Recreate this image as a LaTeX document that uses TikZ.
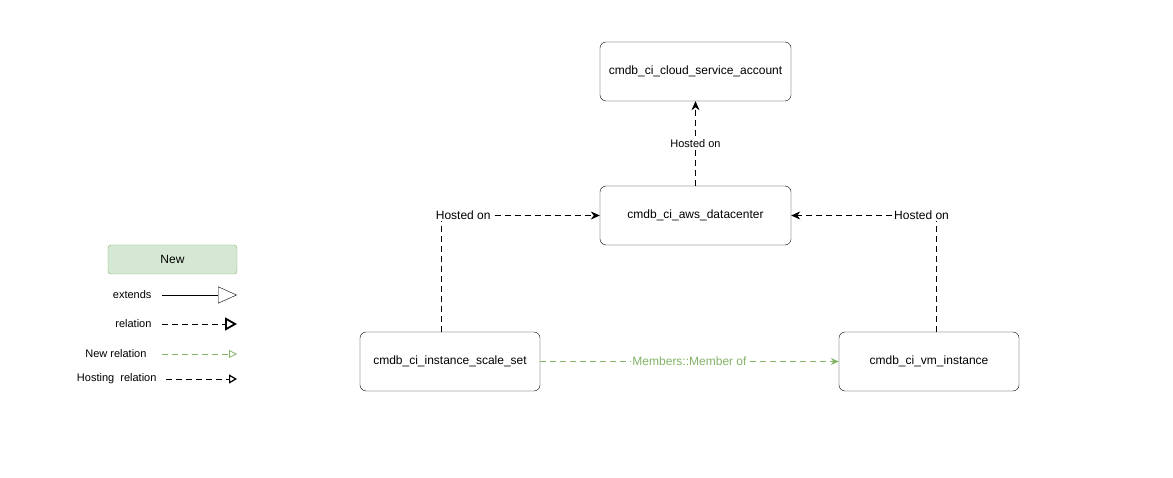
\documentclass[tikz,border=0pt]{standalone}
\usepackage{fontspec}
\setmainfont{Liberation Sans}
\usetikzlibrary{arrows.meta,positioning}
\definecolor{newfill}{RGB}{213,232,212}
\definecolor{newline}{RGB}{130,179,102}

\begin{document}
\begin{tikzpicture}[x=1pt, y=-1pt,
    ci/.style={draw, rounded corners=6pt, minimum width=191pt, minimum height=59pt, font=\fontsize{12}{14}\selectfont},
    hosted/.style={thick, dash pattern=on 6pt off 4pt, -{Stealth[length=9pt,width=8pt]}},
    member/.style={thick, newline, dash pattern=on 6pt off 4pt, -{Stealth[length=8pt,width=7pt]}},
    lbl/.style={fill=white, inner sep=1pt, font=\fontsize{12}{14}\selectfont},
    legtext/.style={anchor=east, font=\fontsize{11}{13}\selectfont}]
    \useasboundingbox (0,0) rectangle (1173,478);
    % CIs
    \node[ci] (cloud) at (695.5,71.5) {cmdb\_ci\_cloud\_service\_account};
    \node[ci] (dc) at (695.5,215.5) {cmdb\_ci\_aws\_datacenter};
    \node[ci, minimum width=180pt] (scaleset) at (450,361.5) {cmdb\_ci\_instance\_scale\_set};
    \node[ci, minimum width=180pt] (vm) at (929,361.5) {cmdb\_ci\_vm\_instance};
    % relations
    \draw[hosted] (dc) -- (cloud)
        node[midway, lbl, font=\fontsize{11}{13}\selectfont] {Hosted on};
    \draw[hosted] ([xshift=-9pt]scaleset.north) |- (dc.west)
        node[pos=0.57, lbl] {Hosted on};
    \draw[hosted] ([xshift=7pt]vm.north) |- (dc.east)
        node[pos=0.55, lbl] {Hosted on};
    \draw[member] (scaleset) -- (vm)
        node[midway, lbl] {Members::Member of};
    % legend
    \node[draw=newline, fill=newfill, rounded corners=3pt, minimum width=129pt, minimum height=29pt,
        font=\fontsize{12}{14}\selectfont] (new) at (172.5,259.5) {New};
    \node[legtext] (extends) at (155,295) {extends};
    \node[legtext] (relation) at (155,324) {relation};
    \node[legtext] (newrel) at (150,354) {New relation};
    \node[legtext] (hosting) at (160,379) {Hosting\ \ relation};
    \coordinate (e1) at (162,295);  \coordinate (e2) at (237,295);
    \coordinate (r1) at (162,324);  \coordinate (r2) at (237,324);
    \coordinate (n1) at (162,354);  \coordinate (n2) at (237,354);
    \coordinate (h1) at (166,379);  \coordinate (h2) at (237,379);
    \draw[-{Triangle[open,length=19pt,width=17pt]}] (e1) -- (e2);
    \draw[thick, dash pattern=on 6pt off 4pt, -{Triangle[open,line width=1.8pt,length=12pt,width=13pt]}] (r1) -- (r2);
    \draw[thick, newline, dash pattern=on 6pt off 4pt, -{Triangle[open,length=8pt,width=8pt]}] (n1) -- (n2);
    \draw[thick, dash pattern=on 6pt off 4pt, -{Triangle[open,line width=1.2pt,length=8pt,width=9pt]}] (h1) -- (h2);
\end{tikzpicture}
\end{document}
